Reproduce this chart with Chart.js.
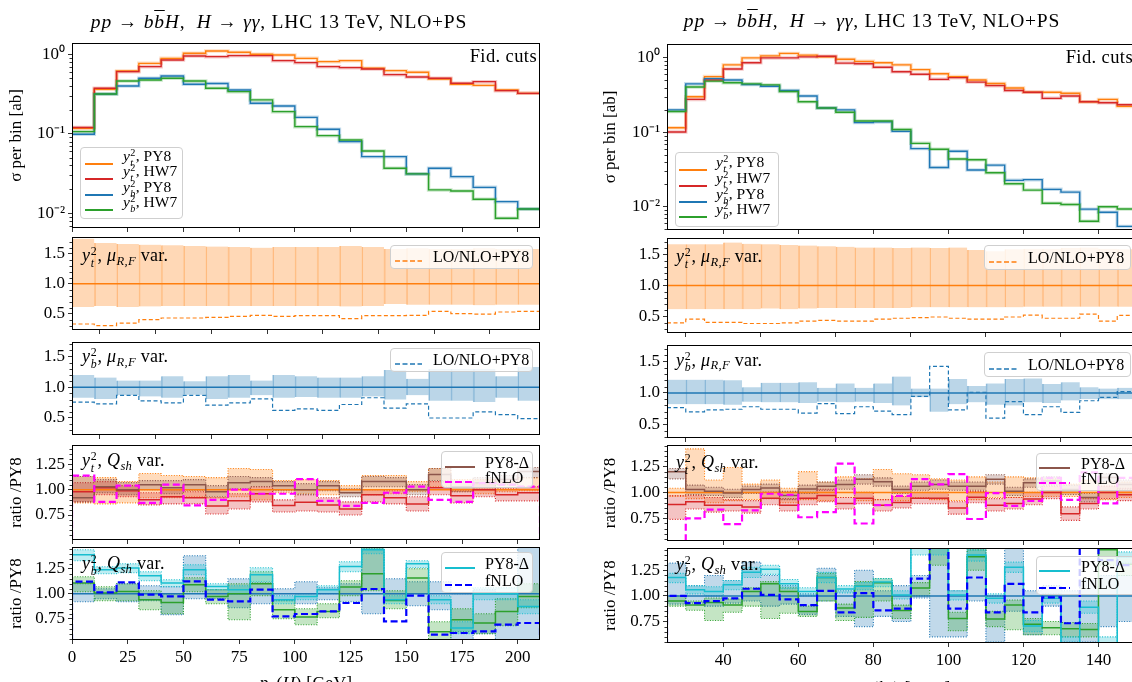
<!DOCTYPE html>
<html>
<head>
<meta charset="utf-8">
<script src="https://cdn.jsdelivr.net/npm/chart.js@4.4.1/dist/chart.umd.min.js"></script>
<style>
body{margin:0;width:1132px;height:682px;overflow:hidden;background:#fff;position:relative;}
canvas{position:absolute;}
.t{position:absolute;height:0;display:flex;align-items:center;white-space:nowrap;font-family:'Liberation Serif',serif;color:#000;z-index:5;}
.t.r{transform:translateX(-100%);}
.t.c{transform:translateX(-50%);}
.ss{display:inline-flex;flex-direction:column;font-size:0.66em;line-height:0.95;position:relative;top:-0.5em;margin-left:0.04em;margin-right:0.04em;}
.sb{font-size:0.7em;position:relative;top:0.3em;}
.leg{position:absolute;background:rgba(255,255,255,0.8);border:1px solid #cfcfcf;border-radius:4px;box-sizing:border-box;z-index:4;}
.smp{position:absolute;z-index:5;}
</style>
</head>
<body>
<script>
// bin edges and ticks
const L_EDGES = [0,10,20,30,40,50,60,70,80,90,100,110,120,130,140,150,160,170,180,190,200,210];
const R_EDGES = [25,30,35,40,45,50,55,60,65,70,75,80,85,90,95,100,105,110,115,120,125,130,135,140,145,150];
const L_XTICKS = [0,25,50,75,100,125,150,175,200];
const R_XTICKS = [40,60,80,100,120,140];
const LOG_TICKS = [0.01,0.1,1];
const LOG_LABELS = ['10\u207B\u00B2','10\u207B\u00B9','10\u2070'];
const MU_TICKS = [0.5,1.0,1.5];
const Q_TICKS = [0.75,1.00,1.25];

// panel 1: sigma per bin [ab]
const L_YT_PY8 = [0.117,0.363,0.617,0.77,0.89,1.03,1.10,1.06,1.00,0.98,0.89,0.809,0.832,0.667,0.623,0.594,0.489,0.419,0.407,0.356,0.323];
const L_YT_HW7 = [0.12,0.374,0.605,0.70,0.849,0.953,0.935,0.962,0.962,0.832,0.786,0.70,0.68,0.654,0.555,0.519,0.499,0.432,0.453,0.349,0.323];
const L_YB_PY8 = [0.0986,0.317,0.40,0.50,0.534,0.42,0.43,0.356,0.242,0.224,0.161,0.114,0.0797,0.0516,0.0516,0.0313,0.0368,0.0289,0.0212,0.014,0.0113];
const L_YB_HW7 = [0.1065,0.317,0.462,0.475,0.499,0.462,0.374,0.339,0.267,0.19,0.123,0.0948,0.0835,0.0608,0.0368,0.0313,0.0197,0.0191,0.015,0.00865,0.0113];
const R_YT_PY8 = [0.115,0.301,0.561,0.807,1.0,1.066,1.149,1.089,1.033,0.958,0.899,0.861,0.807,0.695,0.611,0.561,0.504,0.453,0.394,0.346,0.346,0.335,0.257,0.277,0.223];
const R_YT_HW7 = [0.101,0.277,0.504,0.71,0.861,1.0,1.0,1.033,1.055,0.852,0.834,0.749,0.651,0.604,0.515,0.543,0.473,0.424,0.365,0.346,0.286,0.308,0.257,0.249,0.235];
const R_YB_PY8 = [0.200,0.448,0.526,0.504,0.438,0.416,0.366,0.308,0.212,0.200,0.135,0.138,0.103,0.0604,0.0336,0.0555,0.0311,0.0362,0.0226,0.0231,0.0171,0.0157,0.00927,0.00843,0.00543];
const R_YB_HW7 = [0.19,0.407,0.488,0.463,0.448,0.434,0.354,0.257,0.212,0.186,0.142,0.142,0.109,0.071,0.0592,0.0438,0.0428,0.0286,0.0203,0.0167,0.0111,0.0107,0.00638,0.01,0.0093];

// panel 2: yt^2 muR,F variation band and LO/NLO+PY8
const L_MUT_HI = [1.75,1.68,1.66,1.65,1.64,1.63,1.62,1.61,1.60,1.61,1.61,1.61,1.63,1.61,1.58,1.59,1.58,1.58,1.59,1.58,1.58];
const L_MUT_LO = [0.61,0.63,0.61,0.62,0.63,0.63,0.63,0.63,0.63,0.63,0.63,0.63,0.62,0.63,0.66,0.65,0.65,0.65,0.64,0.65,0.65];
const L_LOT = [0.328,0.30,0.344,0.40,0.428,0.428,0.439,0.456,0.472,0.456,0.467,0.467,0.417,0.467,0.467,0.472,0.539,0.50,0.494,0.528,0.539];
const R_MUT_HI = [1.66,1.66,1.66,1.69,1.67,1.66,1.65,1.64,1.63,1.62,1.61,1.61,1.60,1.61,1.60,1.61,1.57,1.55,1.58,1.59,1.59,1.60,1.61,1.59,1.58];
const R_MUT_LO = [0.62,0.62,0.62,0.62,0.62,0.63,0.62,0.63,0.64,0.64,0.64,0.64,0.64,0.65,0.65,0.65,0.65,0.65,0.65,0.66,0.66,0.66,0.66,0.66,0.66];
const R_LOT = [0.40,0.46,0.41,0.41,0.39,0.39,0.40,0.43,0.44,0.43,0.43,0.46,0.475,0.485,0.495,0.475,0.46,0.46,0.495,0.525,0.475,0.475,0.54,0.43,0.52];

// panel 3: yb^2 muR,F variation band and LO/NLO+PY8
const L_MUB_HI = [1.20,1.16,1.11,1.11,1.18,1.10,1.18,1.20,1.11,1.20,1.18,1.16,1.16,1.18,1.28,1.14,1.30,1.30,1.30,1.18,1.33];
const L_MUB_LO = [0.83,0.81,0.87,0.85,0.83,0.88,0.81,0.83,0.87,0.83,0.84,0.83,0.83,0.85,0.80,0.87,0.78,0.78,0.76,0.83,0.78];
const L_LOB = [0.76,0.73,0.87,0.78,0.745,0.87,0.71,0.745,0.81,0.625,0.65,0.625,0.72,0.83,0.66,0.73,0.50,0.50,0.60,0.555,0.49];
const R_MUB_HI = [1.21,1.21,1.21,1.20,1.09,1.16,1.16,1.17,1.08,1.15,1.08,1.15,1.26,1.07,1.07,1.22,1.11,1.15,1.22,1.23,1.14,1.17,1.09,1.07,1.08];
const R_MUB_LO = [0.82,0.82,0.82,0.81,0.86,0.85,0.85,0.84,0.86,0.85,0.86,0.84,0.80,0.93,0.70,0.82,0.85,0.81,0.80,0.85,0.84,0.88,0.90,0.90,0.90];
const R_LOB = [0.765,0.70,0.73,0.74,0.78,0.74,0.74,0.68,0.83,0.67,0.78,0.71,0.655,0.945,1.42,0.73,1.01,0.60,0.86,0.655,0.78,0.69,0.875,0.93,1.02];

// panel 4: yt^2 Qsh variation, ratio to PY8
const L_QT_HI = [1.13,1.12,1.08,1.16,1.14,1.13,1.12,1.21,1.20,1.09,1.10,1.09,1.04,1.14,1.14,1.08,1.21,1.10,1.10,1.08,1.12];
const L_QT_LO = [0.87,0.86,0.87,0.92,0.92,0.93,0.92,0.93,0.90,0.97,0.96,0.95,0.97,0.95,0.96,0.98,1.03,0.98,0.96,0.98,0.99];
const L_HWT = [0.98,1.02,0.99,0.90,0.93,0.92,0.84,0.89,0.96,0.845,0.875,0.85,0.81,0.95,0.92,0.86,1.02,0.94,1.00,0.95,0.97];
const L_HWT_HI = [1.07,1.08,1.04,0.97,1.00,0.98,0.92,0.96,1.03,0.90,0.95,0.92,0.88,1.00,0.99,0.93,1.08,0.99,1.06,1.01,1.03];
const L_HWT_LO = [0.88,0.95,0.93,0.85,0.86,0.86,0.76,0.81,0.88,0.78,0.79,0.78,0.75,0.88,0.86,0.79,0.95,0.87,0.93,0.89,0.89];
const L_DT = [0.92,1.03,1.00,1.05,1.02,1.05,0.98,1.07,1.08,1.04,1.00,1.04,0.97,1.08,1.08,1.00,1.15,1.03,1.07,1.10,1.18];
const L_DT_HI = [1.13,1.10,1.07,1.09,1.09,1.10,1.04,1.13,1.12,1.08,1.06,1.08,1.01,1.13,1.12,1.05,1.21,1.08,1.12,1.14,1.22];
const L_DT_LO = [0.88,0.97,0.95,1.00,0.96,0.99,0.93,1.01,1.03,0.99,0.95,0.99,0.93,1.03,1.03,0.95,1.09,0.98,1.02,1.05,1.12];
const L_FNT = [1.14,0.88,1.04,0.87,1.05,0.845,0.90,1.00,0.96,0.96,1.105,0.89,0.84,0.87,0.97,1.03,0.90,0.88,1.065,1.05,1.03];
const R_QT_HI = [1.04,1.42,1.12,1.24,1.08,1.12,1.04,1.20,1.10,1.15,1.13,1.22,1.18,1.17,1.13,1.12,1.15,1.10,1.15,1.14,1.13,1.08,1.12,1.10,1.10];
const R_QT_LO = [0.96,0.94,0.90,0.92,0.93,0.94,0.90,0.93,0.92,0.95,0.92,0.93,0.92,0.95,0.93,0.92,0.93,0.95,0.95,0.96,0.96,0.96,0.94,0.93,0.95];
const R_HWT = [0.883,0.91,0.877,0.877,0.86,0.943,0.877,0.943,0.97,0.893,0.943,0.877,0.903,0.943,0.943,0.85,0.953,0.877,0.893,0.937,1.0,0.793,0.893,1.0,0.977];
const R_HWT_HI = [0.97,0.97,0.95,0.93,0.92,1.00,0.94,1.00,1.03,0.95,1.00,0.93,0.96,1.00,1.00,0.91,1.01,0.94,0.95,1.00,1.06,0.86,0.95,1.06,1.04];
const R_HWT_LO = [0.74,0.84,0.81,0.82,0.80,0.88,0.82,0.88,0.91,0.84,0.89,0.82,0.85,0.89,0.89,0.79,0.90,0.82,0.84,0.88,0.94,0.73,0.84,0.94,0.92];
const R_DT = [1.20,1.027,1.01,0.993,1.027,1.043,0.97,1.033,1.06,1.077,1.127,1.103,1.027,1.06,1.077,1.06,1.06,1.127,1.01,1.093,1.11,1.027,0.95,1.143,1.077];
const R_DT_HI = [1.23,1.07,1.05,1.03,1.06,1.08,1.01,1.07,1.10,1.12,1.17,1.14,1.06,1.10,1.12,1.10,1.10,1.17,1.05,1.13,1.15,1.07,0.99,1.18,1.12];
const R_DT_LO = [1.13,0.98,0.97,0.95,0.99,1.00,0.93,0.99,1.02,1.03,1.08,1.06,0.99,1.02,1.03,1.02,1.02,1.08,0.97,1.05,1.07,0.98,0.91,1.10,1.03];
const R_FNT = [0.45,0.75,0.833,0.693,0.827,0.987,0.977,0.76,0.81,1.277,0.70,0.877,0.967,1.127,1.077,1.177,0.743,0.993,0.87,0.917,1.14,0.927,1.193,0.893,1.14];

// panel 5: yb^2 Qsh variation, ratio to PY8
const L_QB_HI = [1.10,1.05,1.10,1.08,1.07,1.38,1.04,1.15,1.11,1.05,1.12,1.06,1.10,1.47,1.15,1.12,1.12,1.00,1.04,1.00,1.47];
const L_QB_LO = [0.92,0.95,0.92,0.93,0.79,0.95,0.95,0.86,0.90,0.93,0.90,0.94,0.92,0.80,0.94,0.88,0.84,0.54,0.60,0.54,0.54];
const L_HWB = [1.107,1.007,1.023,0.94,0.913,1.09,0.973,1.0,1.1,0.84,0.767,0.823,1.067,1.2,0.933,1.157,0.62,0.74,0.707,0.823,0.973];
const L_HWB_HI = [1.17,1.07,1.10,1.03,1.00,1.16,1.04,1.10,1.22,0.93,0.85,0.90,1.13,1.45,1.03,1.25,0.72,0.85,0.80,0.95,1.10];
const L_HWB_LO = [1.02,0.93,0.93,0.84,0.80,1.02,0.90,0.74,0.98,0.75,0.69,0.76,0.98,1.03,0.85,1.00,0.54,0.62,0.60,0.68,0.86];
const L_DB = [1.39,1.24,1.257,1.18,1.107,1.24,1.073,1.04,1.19,0.94,0.973,1.04,1.273,1.44,0.94,1.3,0.94,0.657,1.0,1.0,0.873];
const L_DB_HI = [1.44,1.27,1.30,1.22,1.14,1.29,1.10,1.08,1.26,0.98,1.00,1.08,1.32,1.47,0.98,1.33,0.98,0.72,1.06,1.06,0.94];
const L_DB_LO = [1.33,1.20,1.21,1.13,1.07,1.19,1.04,1.00,1.12,0.90,0.94,1.00,1.22,1.40,0.90,1.26,0.90,0.60,0.94,0.94,0.80];
const L_FNB = [1.12,1.013,1.113,0.99,0.973,1.123,0.94,0.923,1.04,0.773,0.797,0.823,0.907,1.047,0.723,0.98,0.59,0.607,0.623,0.69,0.707];
const R_QB_HI = [1.32,1.10,1.20,1.15,1.33,1.20,1.10,1.02,1.27,1.05,1.25,1.05,1.10,1.20,1.50,1.05,1.50,1.00,1.50,1.05,1.10,1.05,1.15,1.20,1.20];
const R_QB_LO = [0.92,0.93,0.90,0.93,0.95,0.90,0.92,0.82,0.95,0.80,0.70,0.80,0.75,0.98,0.60,0.60,0.95,0.55,0.85,0.62,0.90,0.55,0.55,0.70,0.75];
const R_HWB = [0.95,0.91,0.936,0.91,1.044,1.118,1.044,0.848,1.18,0.882,1.095,1.128,0.858,1.078,1.5,0.78,1.382,0.774,0.91,0.723,0.69,0.68,0.672,1.45,1.31];
const R_HWB_HI = [1.00,0.95,0.98,0.97,1.08,1.14,1.08,0.90,1.22,0.92,1.14,1.17,0.91,1.13,1.50,0.84,1.45,0.85,0.96,0.78,0.75,0.74,0.73,1.50,1.38];
const R_HWB_LO = [0.90,0.86,0.76,0.84,0.90,0.78,0.83,0.80,0.95,0.76,0.79,0.95,0.78,1.00,1.30,0.66,1.25,0.70,0.67,0.62,0.62,0.60,0.60,1.30,1.20];
const R_DB = [1.18,1.06,1.044,1.11,1.23,1.26,1.118,1.044,1.18,1.068,1.095,1.135,1.01,1.5,1.5,1.01,1.4,0.976,1.28,0.706,0.976,0.54,0.89,0.54,1.38];
const R_DB_HI = [1.22,1.10,1.09,1.15,1.28,1.30,1.16,1.08,1.23,1.10,1.13,1.17,1.05,1.50,1.50,1.05,1.45,1.02,1.33,0.76,1.02,0.60,0.95,0.60,1.43];
const R_DB_LO = [1.13,1.02,1.00,1.06,1.18,1.21,1.07,1.00,1.13,1.03,1.06,1.09,0.97,1.40,1.40,0.96,1.34,0.93,1.23,0.65,0.93,0.54,0.83,0.54,1.32];
const R_FNB = [1.0,0.93,0.95,0.976,1.07,1.01,0.966,0.91,1.05,0.84,1.027,0.858,0.875,1.169,1.5,0.875,1.18,0.84,1.118,0.84,0.986,0.733,1.5,1.35,1.30];

const FONT = "'Liberation Serif', 'Times New Roman', serif";
const C = {orange:'#ff7f0e', red:'#d62728', blue:'#1f77b4', green:'#2ca02c', brown:'#8c564b', magenta:'#ff00ff', cyan:'#17becf', dblue:'#0000ff'};

// histogram outline points (value held from left edge to right edge)
function steps(edges, vals, drop) {
  const pts = vals.map((v, i) => ({x: edges[i], y: v}));
  pts.push({x: edges[vals.length], y: vals[vals.length - 1]});
  if (drop) { pts.unshift({x: edges[0], y: 0}); pts.push({x: edges[vals.length], y: 0}); }
  return pts;
}
function line(edges, vals, color, width, dash, order, drop) {
  return {data: steps(edges, vals, drop), borderColor: color, borderWidth: width, borderDash: dash || [],
          stepped: 'before', fill: false, order: order, pointRadius: 0};
}
function unity(edges, color, order) {
  return {data: [{x: edges[0], y: 1}, {x: edges[edges.length - 1], y: 1}], borderColor: color, borderWidth: 1.5,
          fill: false, order: order, pointRadius: 0};
}
function band(edges, hi, lo, color, bg, order) {
  return [
    {data: steps(edges, hi), borderColor: color, borderWidth: 1.1, borderDash: [1, 1.6], stepped: 'before',
     fill: '+1', backgroundColor: bg, order: order, pointRadius: 0},
    {data: steps(edges, lo), borderColor: color, borderWidth: 1.1, borderDash: [1, 1.6], stepped: 'before',
     fill: false, order: order, pointRadius: 0}
  ];
}
function bars(edges, hi, lo, bg, edge, order) {
  return {type: 'bar', data: hi.map((h, i) => ({x: (edges[i] + edges[i + 1]) / 2, y: [lo[i], h]})),
          backgroundColor: bg, borderColor: edge, borderWidth: {left: 1, right: 0, top: 0, bottom: 0},
          borderSkipped: false, barPercentage: 1, categoryPercentage: 1, grouped: false, order: order};
}

const framePlugin = {
  id: 'frame',
  afterDatasetsDraw(chart) {
    const {ctx, chartArea: a} = chart;
    ctx.save(); ctx.strokeStyle = '#000'; ctx.lineWidth = 1;
    ctx.strokeRect(a.left + 0.5, a.top + 0.5, a.right - a.left - 1, a.bottom - a.top - 1);
    ctx.restore();
  }
};
const minorPlugin = {
  id: 'minorTicks',
  afterDraw(chart, args, opts) {
    const ys = chart.scales.y, a = chart.chartArea, ctx = chart.ctx;
    ctx.save(); ctx.strokeStyle = '#000'; ctx.lineWidth = 0.8; ctx.beginPath();
    for (const v of opts.values || []) {
      const p = Math.round(ys.getPixelForValue(v)) + 0.5;
      if (p < a.top || p > a.bottom) continue;
      ctx.moveTo(a.left, p); ctx.lineTo(a.left - 2.5, p);
    }
    ctx.stroke(); ctx.restore();
  }
};

const LOG_MINOR = [], MU_MINOR = [], Q_MINOR = [];
for (let d = -3; d <= 0; d++) for (let m = 2; m <= 9; m++) LOG_MINOR.push(m * Math.pow(10, d));
for (let k = 2; k <= 18; k++) if (k % 5) MU_MINOR.push(k / 10);
for (let k = 10; k <= 30; k++) if (k % 5) Q_MINOR.push(k / 20);

const COLS = {
  L: {left: 0, padL: 72, plotW: 468, xmin: 0, xmax: 210, xticks: L_XTICKS, titleX: 17,
      rows: [[43,228],[237,330],[342,435],[445,540],[547,640]],
      ylim: [[0.00653,1.388],[0.228,1.778],[0.223,1.738],[0.503,1.442],[0.537,1.467]]},
  R: {left: 590, padL: 77, plotW: 469, xmin: 25, xmax: 150, xticks: R_XTICKS, titleX: 21,
      rows: [[44,230],[238,333],[345,438],[445,541],[548,643]],
      ylim: [[0.00486,1.538],[0.238,1.762],[0.284,1.760],[0.531,1.457],[0.54,1.468]]}
};

function makePanel(col, row, datasets, kind, ytitle) {
  const [top, bottom] = col.rows[row];
  const padT = 14, padR = 6, isBottom = row === 4, padB = isBottom ? 40 : 14;
  const W = col.padL + col.plotW + padR, H = padT + (bottom - top) + padB;
  const cv = document.createElement('canvas');
  cv.width = W; cv.height = H;
  cv.style.left = col.left + 'px'; cv.style.top = (top - padT) + 'px';
  cv.style.width = W + 'px'; cv.style.height = H + 'px';
  document.body.appendChild(cv);
  const tickFont = {family: FONT, size: 17};
  const yTicks = kind === 'log' ? LOG_TICKS : (kind === 'mu' ? MU_TICKS : Q_TICKS);
  const minor = kind === 'log' ? LOG_MINOR : (kind === 'mu' ? MU_MINOR : Q_MINOR);
  new Chart(cv, {
    type: 'line',
    data: {datasets: datasets},
    options: {
      responsive: false, animation: false, devicePixelRatio: 1, events: [],
      layout: {padding: {top: padT, right: padR, left: 0, bottom: 0}},
      plugins: {legend: {display: false}, tooltip: {enabled: false}, minorTicks: {values: minor}},
      scales: {
        x: {type: 'linear', min: col.xmin, max: col.xmax, offset: false,
            grid: {drawOnChartArea: false, tickLength: 4, color: '#000', lineWidth: 0.8},
            border: {display: false},
            ticks: {display: isBottom, font: tickFont, color: '#000', padding: 3, maxRotation: 0, autoSkip: false},
            afterBuildTicks: s => { s.ticks = col.xticks.map(v => ({value: v})); },
            afterFit: s => { s.height = padB; }},
        y: {type: kind === 'log' ? 'logarithmic' : 'linear', min: col.ylim[row][0], max: col.ylim[row][1],
            grid: {drawOnChartArea: false, tickLength: 4, color: '#000', lineWidth: 0.8},
            border: {display: false},
            ticks: {font: tickFont, color: '#000', padding: 3, autoSkip: false,
                    callback: v => kind === 'log' ? LOG_LABELS[LOG_TICKS.indexOf(v)] : (kind === 'mu' ? v.toFixed(1) : v.toFixed(2))},
            title: {display: !!ytitle, text: ytitle || '', font: {family: FONT, size: 17}, color: '#000',
                    padding: {top: col.titleX - 10.2, bottom: 0}},
            afterBuildTicks: s => { s.ticks = yTicks.map(v => ({value: v})); },
            afterFit: s => { s.width = col.padL; }}
      }
    },
    plugins: [framePlugin, minorPlugin]
  });
}

function halo(ds) {
  return Object.assign({}, ds, {borderColor: ds.borderColor + '40', borderWidth: 3.5, order: ds.order + 10});
}

function buildColumn(key, E, d) {
  const col = COLS[key];
  const p1 = [line(E, d.ytpy, C.orange, 1.4, [], 4), line(E, d.ythw, C.red, 1.4, [], 3),
              line(E, d.ybpy, C.blue, 1.4, [], 2), line(E, d.ybhw, C.green, 1.4, [], 1)];
  makePanel(col, 0, p1.concat(p1.map(halo)), 'log', '\u03C3 per bin [ab]');
  makePanel(col, 1, [
    bars(E, d.muthi, d.mutlo, 'rgba(255,127,14,0.3)', 'rgba(255,127,14,0.42)', 5),
    unity(E, C.orange, 2), line(E, d.lot, C.orange, 1.2, [4, 2.5], 1)
  ], 'mu');
  makePanel(col, 2, [
    bars(E, d.mubhi, d.mublo, 'rgba(31,119,180,0.3)', 'rgba(31,119,180,0.42)', 5),
    unity(E, C.blue, 2), line(E, d.lob, C.blue, 1.2, [4, 2.5], 1)
  ], 'mu');
  makePanel(col, 3, [
    ...band(E, d.qthi, d.qtlo, C.orange, 'rgba(255,127,14,0.28)', 9),
    ...band(E, d.hwthi, d.hwtlo, C.red, 'rgba(214,39,40,0.28)', 8),
    ...band(E, d.dthi, d.dtlo, C.brown, 'rgba(140,86,75,0.28)', 7),
    unity(E, C.orange, 5), line(E, d.hwt, C.red, 1.5, [], 4), line(E, d.dt, C.brown, 1.5, [], 3),
    line(E, d.fnt, C.magenta, 2.2, [7, 3.5], 1, true)
  ], 'q', 'ratio /PY8');
  makePanel(col, 4, [
    ...band(E, d.qbhi, d.qblo, C.blue, 'rgba(31,119,180,0.28)', 9),
    ...band(E, d.hwbhi, d.hwblo, C.green, 'rgba(44,160,44,0.28)', 8),
    ...band(E, d.dbhi, d.dblo, C.cyan, 'rgba(23,190,207,0.28)', 7),
    unity(E, C.blue, 5), line(E, d.hwb, C.green, 1.5, [], 4), line(E, d.db, C.cyan, 1.5, [], 3),
    line(E, d.fnb, C.dblue, 2.2, [7, 3.5], 1, true)
  ], 'q', 'ratio /PY8');
}

buildColumn('L', L_EDGES, {ytpy: L_YT_PY8, ythw: L_YT_HW7, ybpy: L_YB_PY8, ybhw: L_YB_HW7,
  muthi: L_MUT_HI, mutlo: L_MUT_LO, lot: L_LOT, mubhi: L_MUB_HI, mublo: L_MUB_LO, lob: L_LOB,
  qthi: L_QT_HI, qtlo: L_QT_LO, hwt: L_HWT, hwthi: L_HWT_HI, hwtlo: L_HWT_LO, dt: L_DT, dthi: L_DT_HI, dtlo: L_DT_LO, fnt: L_FNT,
  qbhi: L_QB_HI, qblo: L_QB_LO, hwb: L_HWB, hwbhi: L_HWB_HI, hwblo: L_HWB_LO, db: L_DB, dbhi: L_DB_HI, dblo: L_DB_LO, fnb: L_FNB});
buildColumn('R', R_EDGES, {ytpy: R_YT_PY8, ythw: R_YT_HW7, ybpy: R_YB_PY8, ybhw: R_YB_HW7,
  muthi: R_MUT_HI, mutlo: R_MUT_LO, lot: R_LOT, mubhi: R_MUB_HI, mublo: R_MUB_LO, lob: R_LOB,
  qthi: R_QT_HI, qtlo: R_QT_LO, hwt: R_HWT, hwthi: R_HWT_HI, hwtlo: R_HWT_LO, dt: R_DT, dthi: R_DT_HI, dtlo: R_DT_LO, fnt: R_FNT,
  qbhi: R_QB_HI, qblo: R_QB_LO, hwb: R_HWB, hwbhi: R_HWB_HI, hwblo: R_HWB_LO, db: R_DB, dbhi: R_DB_HI, dblo: R_DB_LO, fnb: R_FNB});

// ---- text overlays ----
function put(html, x, y, cls, size, ls) {
  const el = document.createElement('div');
  el.className = 't ' + (cls || '');
  el.style.left = x + 'px'; el.style.top = y + 'px'; el.style.fontSize = (size || 17) + 'px';
  if (ls) el.style.letterSpacing = ls + 'px';
  el.innerHTML = '<span>' + html + '</span>';
  document.body.appendChild(el);
}
function box(x, y, w, h) {
  const el = document.createElement('div');
  el.className = 'leg';
  el.style.cssText = 'left:' + x + 'px;top:' + y + 'px;width:' + w + 'px;height:' + h + 'px;';
  document.body.appendChild(el);
}
function sample(x0, x1, y, color, width, dash) {
  const el = document.createElement('div');
  el.className = 'smp';
  el.style.left = x0 + 'px'; el.style.top = (y - 5) + 'px';
  el.innerHTML = '<svg width="' + (x1 - x0) + '" height="10"><line x1="0" y1="5" x2="' + (x1 - x0) + '" y2="5" stroke="' + color +
    '" stroke-width="' + width + '"' + (dash ? ' stroke-dasharray="' + dash + '"' : '') + '/></svg>';
  document.body.appendChild(el);
}
const YT2 = '<i>y</i><span class="ss"><span>2</span><i>t</i></span>';
const YB2 = '<i>y</i><span class="ss"><span>2</span><i>b</i></span>';
const MURF = '<i>\u03BC</i><span class="sb"><i>R,F</i></span>';
const QSH = '<i>Q</i><span class="sb"><i>sh</i></span>';
const TITLE = '<i>pp</i> \u2192 <i>b</i><i style="text-decoration:overline">b</i><i>H</i>, &nbsp;<i>H</i> \u2192 <i>\u03B3\u03B3</i>, LHC 13 TeV, NLO+PS';

function overlays(o) {
  put(TITLE, o.titleX, o.titleY, 'c', 19.5, 0.8);
  put('Fid. cuts', o.fidX, o.fidY, 'r', 18.5, 0.4);
  // panel 1 legend
  box(o.l1[0], o.l1[1], o.l1[2], o.l1[3]);
  const l1 = [[YT2 + ', PY8', C.orange], [YT2 + ', HW7', C.red], [YB2 + ', PY8', C.blue], [YB2 + ', HW7', C.green]];
  l1.forEach((r, i) => { sample(o.l1x[0], o.l1x[1], o.l1r[i], r[1], 2); put(r[0], o.l1x[2], o.l1r[i], '', 15.5); });
  // panel 2 and 3
  put(YT2 + ', ' + MURF + ' var.', o.ax, o.a2, '', 18, 0.3);
  box(o.l2[0], o.l2[1], o.l2[2], o.l2[3]);
  sample(o.l2x[0], o.l2x[1], o.l2y, C.orange, 1.5, '5,2.5'); put('LO/NLO+PY8', o.l2x[2], o.l2y, '', 16);
  put(YB2 + ', ' + MURF + ' var.', o.ax, o.a3, '', 18, 0.3);
  box(o.l3[0], o.l3[1], o.l3[2], o.l3[3]);
  sample(o.l2x[0], o.l2x[1], o.l3y, C.blue, 1.5, '5,2.5'); put('LO/NLO+PY8', o.l2x[2], o.l3y, '', 16);
  // panel 4 and 5
  put(YT2 + ', ' + QSH + ' var.', o.ax, o.a4, '', 18, 0.3);
  box(o.l4[0], o.l4[1], o.l4[2], o.l4[3]);
  sample(o.l4x[0], o.l4x[1], o.l4r[0], C.brown, 2); put('PY8-\u0394', o.l4x[2], o.l4r[0], '', 16);
  sample(o.l4x[0], o.l4x[1], o.l4r[1], C.magenta, 2.2, '7,3'); put('fNLO', o.l4x[2], o.l4r[1], '', 16);
  put(YB2 + ', ' + QSH + ' var.', o.ax, o.a5, '', 18, 0.3);
  box(o.l5[0], o.l5[1], o.l5[2], o.l5[3]);
  sample(o.l4x[0], o.l4x[1], o.l5r[0], C.cyan, 2); put('PY8-\u0394', o.l4x[2], o.l5r[0], '', 16);
  sample(o.l4x[0], o.l4x[1], o.l5r[1], C.dblue, 2.2, '7,3'); put('fNLO', o.l4x[2], o.l5r[1], '', 16);
  put(o.xlabel, o.xlX, o.xlY, 'c', 17.5, 0.3);
}
overlays({titleX: 279, titleY: 22, fidX: 537, fidY: 56,
  l1: [80, 147, 103, 72], l1x: [85, 113, 123], l1r: [160, 175, 191, 206],
  ax: 82, a2: 260, a3: 361, a4: 465, a5: 568,
  l2: [390, 245, 143, 24], l2x: [395, 422, 433], l2y: 257, l3: [390, 348, 143, 24], l3y: 360,
  l4: [441, 451, 92, 37], l4x: [445, 475, 485], l4r: [463, 477.5], l5: [441, 552, 92, 41], l5r: [564, 581],
  xlabel: '<i>p</i><span class="sb">T</span>(<i>H</i>) [GeV]', xlX: 306, xlY: 682});
overlays({titleX: 872, titleY: 21, fidX: 1133, fidY: 57,
  l1: [675, 152, 104, 75], l1x: [679, 707, 716], l1r: [166, 181.5, 198, 213],
  ax: 676, a2: 261, a3: 364.5, a4: 467, a5: 569,
  l2: [984, 245, 147, 25], l2x: [989, 1017, 1028], l2y: 258, l3: [984, 352, 147, 25], l3y: 364.5,
  l4: [1036, 453, 100, 38], l4x: [1039, 1070, 1081], l4r: [464, 479], l5: [1036, 556, 100, 39], l5r: [567, 584],
  xlabel: '<i>p</i><span class="sb">T</span>(<i>b</i><span class="sb">1</span>) [GeV]', xlX: 903, xlY: 687});
</script>
</body>
</html>
